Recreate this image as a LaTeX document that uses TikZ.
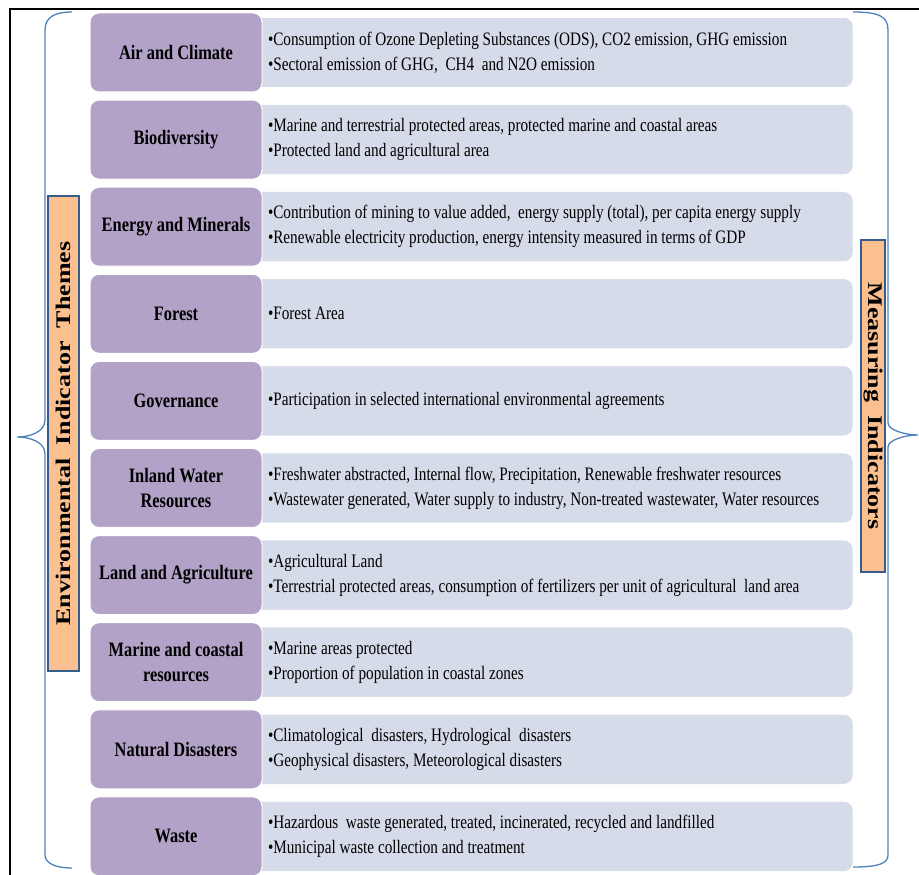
\documentclass[tikz,border=0pt]{standalone}
\usepackage{fontspec}
\setmainfont{Liberation Serif}
\newfontfamily\narrowfont{Liberation Serif}[FakeStretch=0.8]
\usepackage{xcolor}
\definecolor{themepurple}{RGB}{178,162,199}
\definecolor{itemblue}{RGB}{213,219,232}
\definecolor{tagorange}{RGB}{250,192,144}
\definecolor{tagborder}{RGB}{56,93,138}
\definecolor{bracecolor}{RGB}{79,129,189}
\begin{document}
\begin{tikzpicture}[x=1pt,y=1pt,
  theme/.style={draw=white,line width=1pt,fill=themepurple,rounded corners=9pt,
    minimum width=172pt,minimum height=79pt,inner sep=0pt,align=center,
    font=\narrowfont\bfseries\fontsize{20.5}{25}\selectfont},
  items/.style={draw=white,line width=0.6pt,fill=itemblue,rounded corners=9pt,
    minimum height=70pt,text width=567pt,inner xsep=18pt,inner ysep=0pt,align=flush left,
    font=\narrowfont\fontsize{19}{25}\selectfont},
  tag/.style={draw=tagborder,line width=2pt,fill=tagorange,inner sep=0pt,
    font=\bfseries\fontsize{26}{26}\selectfont},
  bracket/.style={draw=bracecolor,line width=1.3pt}]
\useasboundingbox (0,0) rectangle (919,875);
% Drawing frame
\draw[line width=2pt] (10,0) -- (10,866) -- (919,866);
% Drawing item boxes
\node[items] (airitems) at (551.5,822.5) {%
  •Consumption of Ozone Depleting Substances (ODS), CO2 emission, GHG emission\\
  •Sectoral emission of GHG,\ \ CH4\ \ and N2O emission};
\node[items] (bioitems) at (551.5,735.4) {%
  •Marine and terrestrial protected areas, protected marine and coastal areas\\
  •Protected land and agricultural area};
\node[items] (energyitems) at (551.5,648.3) {%
  •Contribution of mining to value added,\ \ energy supply (total), per capita energy supply\\
  •Renewable electricity production, energy intensity measured in terms of GDP};
\node[items] (forestitems) at (551.5,561.2) {•Forest Area};
\node[items] (govitems) at (551.5,474.1) {%
  •Participation in selected international environmental agreements};
\node[items] (wateritems) at (551.5,387.0) {%
  •Freshwater abstracted, Internal flow, Precipitation, Renewable freshwater resources\\
  •Wastewater generated, Water supply to industry, Non-treated wastewater, Water resources};
\node[items] (landitems) at (551.5,299.9) {%
  •Agricultural Land\\
  •Terrestrial protected areas, consumption of fertilizers per unit of agricultural\ \ land area};
\node[items] (marineitems) at (551.5,212.8) {%
  •Marine areas protected\\
  •Proportion of population in coastal zones};
\node[items] (disasteritems) at (551.5,125.7) {%
  •Climatological\ \ disasters, Hydrological\ \ disasters\\
  •Geophysical disasters, Meteorological disasters};
\node[items] (wasteitems) at (551.5,38.6) {%
  •Hazardous\ \ waste generated, treated, incinerated, recycled and landfilled\\
  •Municipal waste collection and treatment};
% Drawing theme boxes
\node[theme] (air) at (176,822.5) {Air and Climate};
\node[theme] (bio) at (176,735.4) {Biodiversity};
\node[theme] (energy) at (176,648.3) {Energy and Minerals};
\node[theme] (forest) at (176,561.2) {Forest};
\node[theme] (gov) at (176,474.1) {Governance};
\node[theme] (water) at (176,387.0) {Inland Water\\Resources};
\node[theme] (land) at (176,299.9) {Land and Agriculture};
\node[theme] (marine) at (176,212.8) {Marine and coastal\\resources};
\node[theme] (disaster) at (176,125.7) {Natural Disasters};
\node[theme] (waste) at (176,38.6) {Waste};
% Drawing braces
\draw[bracket] (72,863) .. controls (55,863) and (45,858) .. (45,845) -- (45,455)
  .. controls (45,443) and (30,438) .. (17,438) .. controls (30,438) and (45,433) .. (45,421)
  -- (45,20) .. controls (45,12) and (55,7) .. (72,7);
\draw[bracket] (853,863) .. controls (880,863) and (888,858) .. (888,845) -- (888,452)
  .. controls (888,445) and (905,440) .. (918,440) .. controls (905,440) and (888,435) .. (888,428)
  -- (888,20) .. controls (888,12) and (880,8) .. (853,8);
% Drawing side tags
\node[tag,rotate=90,minimum width=475pt,minimum height=31pt] (themetag) at (63.5,441.5)
  {\scalebox{1}[0.8]{Environmental\ \ Indicator\ \ Themes}};
\node[tag,rotate=-90,minimum width=332pt,minimum height=24pt] (measuretag) at (873,469)
  {\scalebox{1}[0.8]{Measuring\ \ Indicators}};
% Done with tags
\end{tikzpicture}
\end{document}
